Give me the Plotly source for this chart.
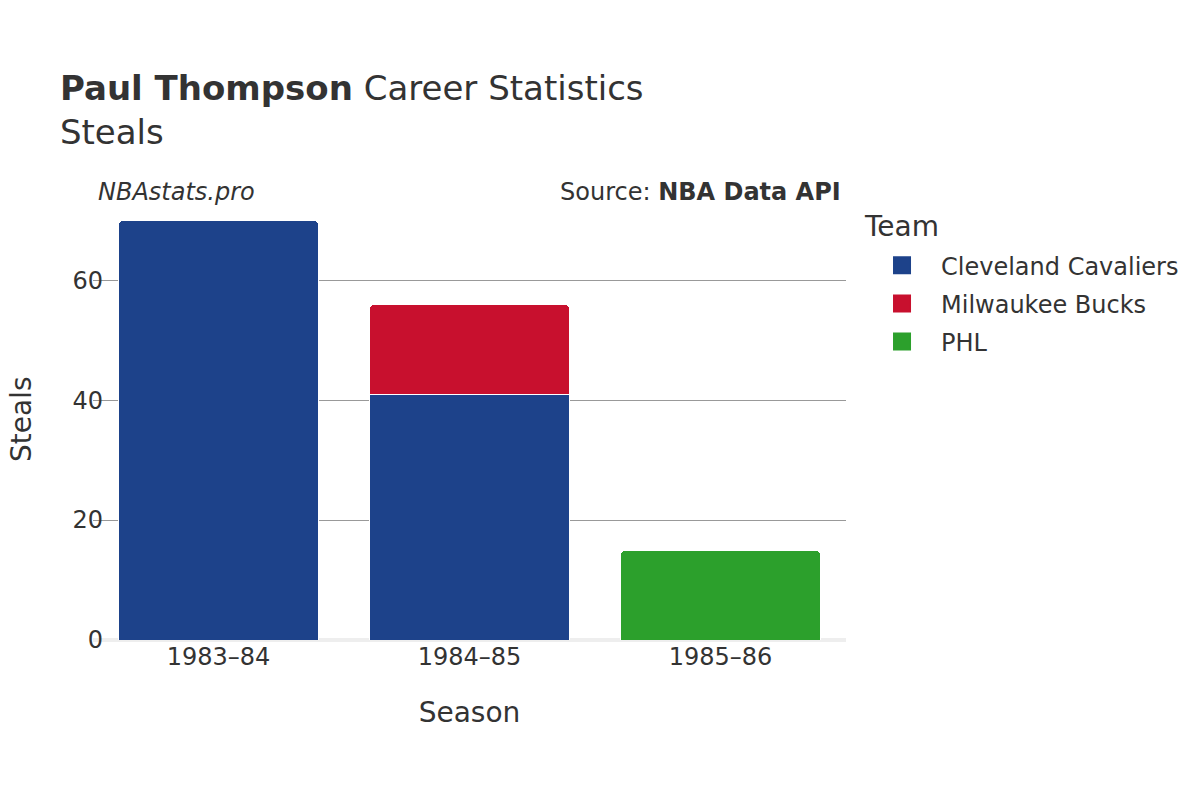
import plotly.graph_objects as go

seasons = ["1983–84", "1984–85", "1985–86"]
teams = ["Cleveland Cavaliers", "Milwaukee Bucks", "PHL"]
colors = ["#1D428A", "#C8102E", "#2CA02C"]
cle_steals = [70, 41, None]
mil_steals = [None, 15, None]
phl_steals = [None, None, 15]
series = [cle_steals, mil_steals, phl_steals]

font_family = "DejaVu Sans"
text_color = "#333333"

fig = go.Figure()
for team, color, vals in zip(teams, colors, series):
    fig.add_trace(go.Bar(
        x=seasons, y=vals, name=team, showlegend=False, legendgroup=team,
        marker=dict(color=color, line=dict(color="white", width=1)),
    ))
# legend proxies
for team, color in zip(teams, colors):
    fig.add_trace(go.Scatter(
        x=[None], y=[None], mode="markers", name=team, legendgroup=team,
        marker=dict(symbol="square", size=20, color=color,
                    line=dict(color=color, width=2)),
    ))

fig.update_layout(
    width=1200, height=800,
    barmode="stack",
    bargap=0.2,
    barcornerradius=6,
    plot_bgcolor="white",
    paper_bgcolor="white",
    font=dict(family=font_family, color=text_color, size=24),
    margin=dict(l=85, r=362, t=190, b=168),
    title=dict(
        text="<b>Paul Thompson</b> Career Statistics<br>Steals",
        x=0.0433, xanchor="left", y=0.8855, yanchor="top",
        font=dict(size=34, color=text_color),
    ),
    xaxis=dict(
        title=dict(text="Season", font=dict(size=28), standoff=32),
        tickfont=dict(size=24),
        showgrid=False,
    ),
    yaxis=dict(
        tickfont=dict(size=24),
        ticklabelstandoff=-11,
        range=[0, 73.7],
        tickvals=[0, 20, 40, 60],
        showgrid=True, gridcolor="#999999", gridwidth=1,
        zeroline=True, zerolinecolor="#eeeeee", zerolinewidth=4,
    ),
    legend=dict(
        font=dict(size=24),
        x=1.0226, xanchor="left", y=0.898, yanchor="top",
        itemsizing="trace",
        itemwidth=68,
        traceorder="grouped",
        tracegroupgap=4,
    ),
    annotations=[
        dict(text="Team", xref="paper", yref="paper",
             x=(862 - 93) / 753, y=(640 - 226) / 442,
             xanchor="left", yanchor="middle", showarrow=False,
             font=dict(size=28, color=text_color)),
        dict(text="Steals", xref="paper", yref="paper",
             x=-0.0956, y=0.5, xanchor="center", yanchor="middle",
             textangle=-90, showarrow=False,
             font=dict(size=28, color=text_color)),
        dict(text="<i>NBAstats.pro</i>", xref="paper", yref="paper",
             x=0.004, y=1.014, xanchor="left", yanchor="middle",
             showarrow=False, font=dict(size=24, color=text_color)),
        dict(text="Source: <b>NBA Data API</b>", xref="paper", yref="paper",
             x=0.996, y=1.014, xanchor="right", yanchor="middle",
             showarrow=False, font=dict(size=24, color=text_color)),
    ],
)

fig.write_html("out.html")
